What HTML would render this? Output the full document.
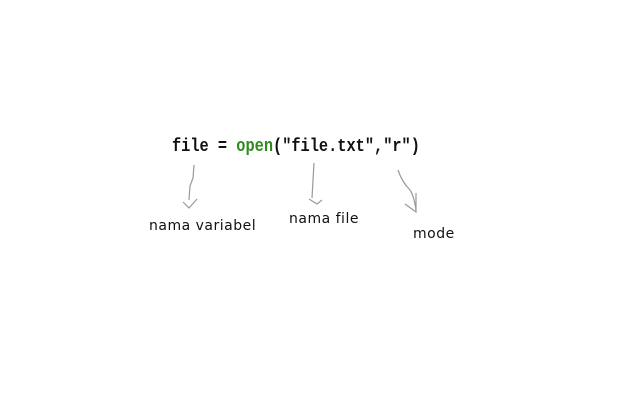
<!DOCTYPE html>
<html><head><style>
body{margin:0;width:640px;height:400px;background:#fff;position:relative;overflow:hidden}
.code{position:absolute;left:172px;top:137px;font-family:"Liberation Mono",monospace;font-size:18px;font-weight:bold;letter-spacing:0;color:#111;white-space:pre;transform:scaleX(0.85);transform-origin:left top}
.g{color:#2e8b1e}
.l{position:absolute;font-family:"DejaVu Sans","Liberation Sans",sans-serif;font-size:14px;color:#111;letter-spacing:0.5px}
</style></head><body>
<div class="code">file = <span class="g">open</span>("file.txt","r")</div>
<svg width="640" height="400" style="position:absolute;left:0;top:0" fill="none" stroke="#999" stroke-width="1.2">
<path d="M194 165 L193 178 L190 186 L189 200"/>
<path d="M183 202 L189 208 L197 199"/>
<path d="M314 163 L313 180 L312 198"/>
<path d="M309 199 L317 204 L322 200"/>
<path d="M398 170 Q402 182 410 190 Q414 196 416 210"/>
<path d="M405 204 L416 212 L416 193"/>
</svg>
<div class="l" style="left:149px;top:218px">nama variabel</div>
<div class="l" style="left:289px;top:211px">nama file</div>
<div class="l" style="left:413px;top:226px">mode</div>
</body></html>
